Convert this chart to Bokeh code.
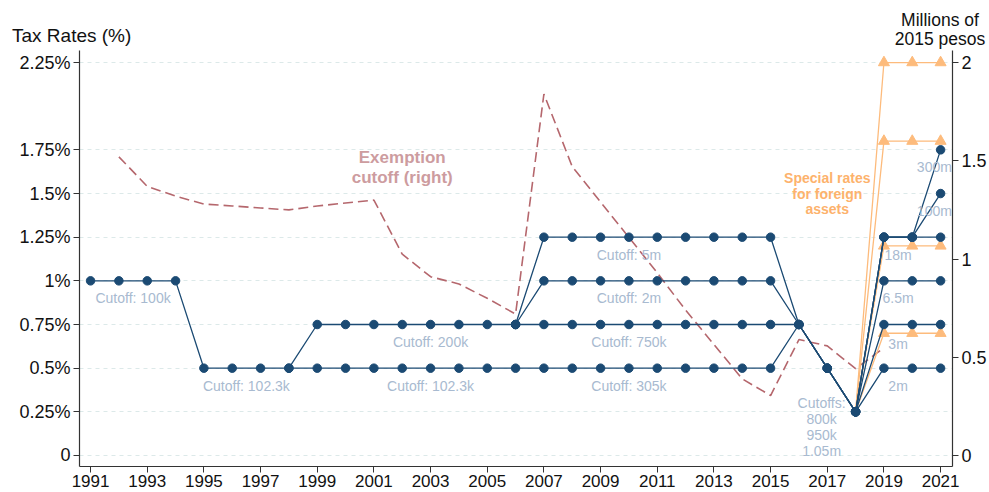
from bokeh.plotting import figure
from bokeh.models import Range1d, LinearAxis, FixedTicker, Div
from bokeh.layouts import column
from bokeh.embed import file_html
from bokeh.resources import INLINE
from bokeh.core.properties import value

# ---------------- data ----------------
years_b1 = list(range(1991, 2022))
rate_b1 = [1.0, 1.0, 1.0, 1.0,
           0.5, 0.5, 0.5, 0.5, 0.5, 0.5, 0.5, 0.5, 0.5, 0.5, 0.5, 0.5, 0.5, 0.5, 0.5, 0.5,
           0.5, 0.5, 0.5, 0.5, 0.5,
           0.75, 0.5, 0.25, 0.5, 0.5, 0.5]

years_b2 = list(range(1998, 2022))
rate_b2 = [0.5, 0.75, 0.75, 0.75, 0.75, 0.75, 0.75, 0.75, 0.75, 0.75, 0.75, 0.75, 0.75,
           0.75, 0.75, 0.75, 0.75, 0.75, 0.75, 0.5, 0.25, 0.75, 0.75, 0.75]

years_b3 = list(range(2006, 2022))
rate_b3 = [0.75, 1.0, 1.0, 1.0, 1.0, 1.0, 1.0, 1.0, 1.0, 1.0, 0.75, 0.5, 0.25, 1.0, 1.0, 1.0]
rate_b4 = [0.75, 1.25, 1.25, 1.25, 1.25, 1.25, 1.25, 1.25, 1.25, 1.25, 0.75, 0.5, 0.25, 1.25, 1.25, 1.25]

years_new = [2018, 2019, 2020, 2021]
rate_b5 = [0.25, 1.25, 1.25, 1.5]
rate_b6 = [0.25, 1.25, 1.25, 1.75]

foreign_rates = [0.7, 1.2, 1.8, 2.25]

cutoff_years = list(range(1992, 2020))
cutoff_mill = [1.52, 1.37, 1.32, 1.28, 1.27, 1.26, 1.25, 1.27, 1.285, 1.30,
               1.025, 0.91, 0.873, 0.80, 0.72, 1.84, 1.47, 1.29, 1.11, 0.93,
               0.74, 0.565, 0.39, 0.305, 0.59, 0.558, 0.442, 0.548]

left_ticks = [0, 0.25, 0.5, 0.75, 1.0, 1.25, 1.5, 1.75, 2.25]
left_labels = ["0", "0.25%", "0.5%", "0.75%", "1%", "1.25%", "1.5%", "1.75%", "2.25%"]
right_ticks = [0, 0.5, 1.0, 1.5, 2.0]
right_labels = ["0", "0.5", "1", "1.5", "2"]
year_ticks = list(range(1991, 2022, 2))

left_title = "Tax Rates (%)"
right_title = ["Millions of", "2015 pesos"]

cut_text = ["Cutoff: 100k", "Cutoff: 102.3k", "Cutoff: 200k", "Cutoff: 102.3k",
            "Cutoff: 5m", "Cutoff: 2m", "Cutoff: 750k", "Cutoff: 305k",
            "300m", "100m", "18m", "6.5m", "3m", "2m",
            "Cutoffs:\n800k\n950k\n1.05m"]
cut_x = [1992.5, 1996.5, 2003, 2003, 2010, 2010, 2010, 2010,
         2020.78, 2020.78, 2019.5, 2019.5, 2019.5, 2019.5, 2016.8]
cut_y = [0.9, 0.4, 0.65, 0.4, 1.15, 0.9, 0.65, 0.4,
         1.65, 1.40, 1.15, 0.9, 0.64, 0.4, 0.166]

# ---------------- style ----------------
NAVY = "#1b4a73"
ORANGE = "#fdbb7c"
ROSE = "#b5676d"
LABEL_BLUE = "#a8bad0"
FONT = "Liberation Sans"
TOP_H = 50

Y0, Y1 = -0.063, 2.319
X0, X1 = 1990.61, 2021.42

# ---------------- header strip with axis titles ----------------
blk = "position:absolute;display:block;white-space:nowrap;"
header_html = (
    f'<div style="position:relative;width:989px;height:{TOP_H}px;'
    f'font-family:\'{FONT}\';color:#111111;">'
    f'<span style="{blk}left:12px;top:26px;font-size:19px;line-height:19px;height:19px;">'
    f'{left_title}</span>'
    f'<span style="{blk}left:840px;width:200px;text-align:center;top:12px;'
    f'font-size:17.5px;line-height:17.5px;height:17.5px;">{right_title[0]}</span>'
    f'<span style="{blk}left:840px;width:200px;text-align:center;top:31px;'
    f'font-size:17.5px;line-height:17.5px;height:17.5px;">{right_title[1]}</span>'
    '</div>'
)
header = Div(text=header_html, width=989, height=TOP_H, margin=0)

# ---------------- main chart ----------------
p = figure(width=989, height=492 - TOP_H, output_backend="svg", toolbar_location=None,
           x_range=Range1d(X0, X1), y_range=Range1d(Y0, Y1),
           min_border_left=79, min_border_right=37, min_border_top=0, min_border_bottom=26)
p.extra_y_ranges = {"right": Range1d(Y0 / 1.125, Y1 / 1.125)}
p.outline_line_color = None
p.background_fill_color = "white"
p.border_fill_color = "white"

for ax in [p.xaxis[0], p.yaxis[0]]:
    ax.axis_line_color = "#333333"
    ax.axis_line_width = 1.2
    ax.major_tick_line_color = "#333333"
    ax.major_tick_in = 0
    ax.major_tick_out = 6
    ax.minor_tick_line_color = None
    ax.major_label_text_font = FONT
    ax.major_label_text_font_size = "17px"
    ax.major_label_text_color = "#111111"

p.xaxis[0].ticker = FixedTicker(ticks=year_ticks)
p.xaxis[0].major_label_standoff = 2
p.xaxis[0].major_tick_out = 6
p.yaxis[0].ticker = FixedTicker(ticks=left_ticks)
p.yaxis[0].major_label_overrides = {t: l for t, l in zip(left_ticks, left_labels)}
p.yaxis[0].major_label_standoff = 3
p.yaxis[0].major_label_text_font_size = "18px"

ra = LinearAxis(y_range_name="right", ticker=FixedTicker(ticks=right_ticks))
ra.major_label_overrides = {t: l for t, l in zip(right_ticks, right_labels)}
ra.axis_line_color = "#333333"
ra.axis_line_width = 1.2
ra.major_tick_line_color = "#333333"
ra.major_tick_in = 0
ra.major_tick_out = 6
ra.minor_tick_line_color = None
ra.major_label_text_font = FONT
ra.major_label_text_font_size = "18px"
ra.major_label_text_color = "#111111"
ra.major_label_standoff = 3
p.add_layout(ra, "right")

p.xgrid.visible = False
p.ygrid.ticker = FixedTicker(ticks=left_ticks)
p.ygrid.grid_line_color = "#dce9e9"
p.ygrid.grid_line_dash = "4 4"
p.ygrid.grid_line_width = 1.2

# exemption cutoff (right axis)
p.line(cutoff_years, cutoff_mill, y_range_name="right", line_color=ROSE,
       line_width=1.6, line_dash="10 5")

# foreign asset special rates
for fr in foreign_rates:
    ys = [0.25] + [fr] * 3
    p.line(years_new, ys, line_color=ORANGE, line_width=1.3)
    p.scatter(years_new[1:], ys[1:], marker="triangle", size=11,
              fill_color=ORANGE, line_color=ORANGE)

# domestic brackets
for xs, ys in [(years_b1, rate_b1), (years_b2, rate_b2), (years_b3, rate_b3),
               (years_b3, rate_b4), (years_new, rate_b5), (years_new, rate_b6)]:
    p.line(xs, ys, line_color=NAVY, line_width=1.3)
    p.scatter(xs, ys, size=8.5, fill_color=NAVY, line_color=NAVY)

# cutoff labels
p.text(cut_x, cut_y, text=cut_text, text_font=value(FONT), text_font_size="14px",
       text_color=LABEL_BLUE, text_align="center", text_baseline="middle",
       text_line_height=1.0)

p.text([2002.0], [1.65], text=["Exemption\ncutoff (right)"], text_font=value(FONT),
       text_font_size="17px", text_font_style="bold", text_color="#cd9c9f",
       text_align="center", text_baseline="middle", text_line_height=1.05)

p.text([2017.0], [1.50], text=["Special rates\nfor foreign\nassets"], text_font=value(FONT),
       text_font_size="14px", text_font_style="bold", text_color="#fdb26c",
       text_align="center", text_baseline="middle", text_line_height=0.97)

layout = column(header, p, spacing=0)
open("out.html", "w").write(file_html(layout, INLINE))
